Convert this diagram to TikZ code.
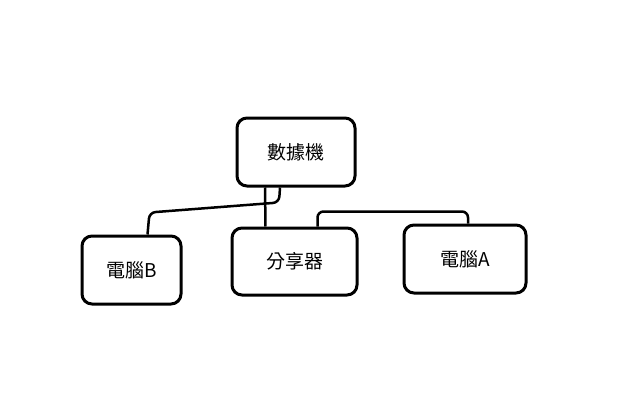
\documentclass[tikz,border=0pt]{standalone}
\usepackage{fontspec}
\newfontfamily\cjk{Noto Sans CJK TC}
\usetikzlibrary{positioning}
\tikzset{
	devbox/.style={draw,line width=3pt,rounded corners=10pt,font=\cjk\fontsize{19}{22}\selectfont},
	wire/.style={line width=2.5pt,rounded corners=6pt}
}
\begin{document}
\begin{tikzpicture}[x=1pt,y=1pt]
	\useasboundingbox (0,0) rectangle (640,-404);
	\node[devbox,minimum width=118pt,minimum height=68pt] (modem) at (296,-152) {數據機};
	\node[devbox,minimum width=99pt,minimum height=68pt] (pcB) at (131.5,-270) {電腦B};
	\node[devbox,minimum width=125pt,minimum height=67pt] (hub) at (294.5,-261.5) {分享器};
	\node[devbox,minimum width=122pt,minimum height=68pt] (pcA) at (465,-259) {電腦A};
	% connectors
	\draw[wire] ([xshift=-31pt]modem.south) -- ([xshift=-29pt]hub.north);
	\draw[wire] ([xshift=-16pt]modem.south) -- ++(-1,-15) -- ([xshift=18pt,yshift=22pt]pcB.north) -- ([xshift=16pt]pcB.north);
	\draw[wire] ([xshift=23pt]hub.north) -- ++(0,15) -- ([xshift=3pt,yshift=12pt]pcA.north) -- ([xshift=3pt]pcA.north);
\end{tikzpicture}
\end{document}
